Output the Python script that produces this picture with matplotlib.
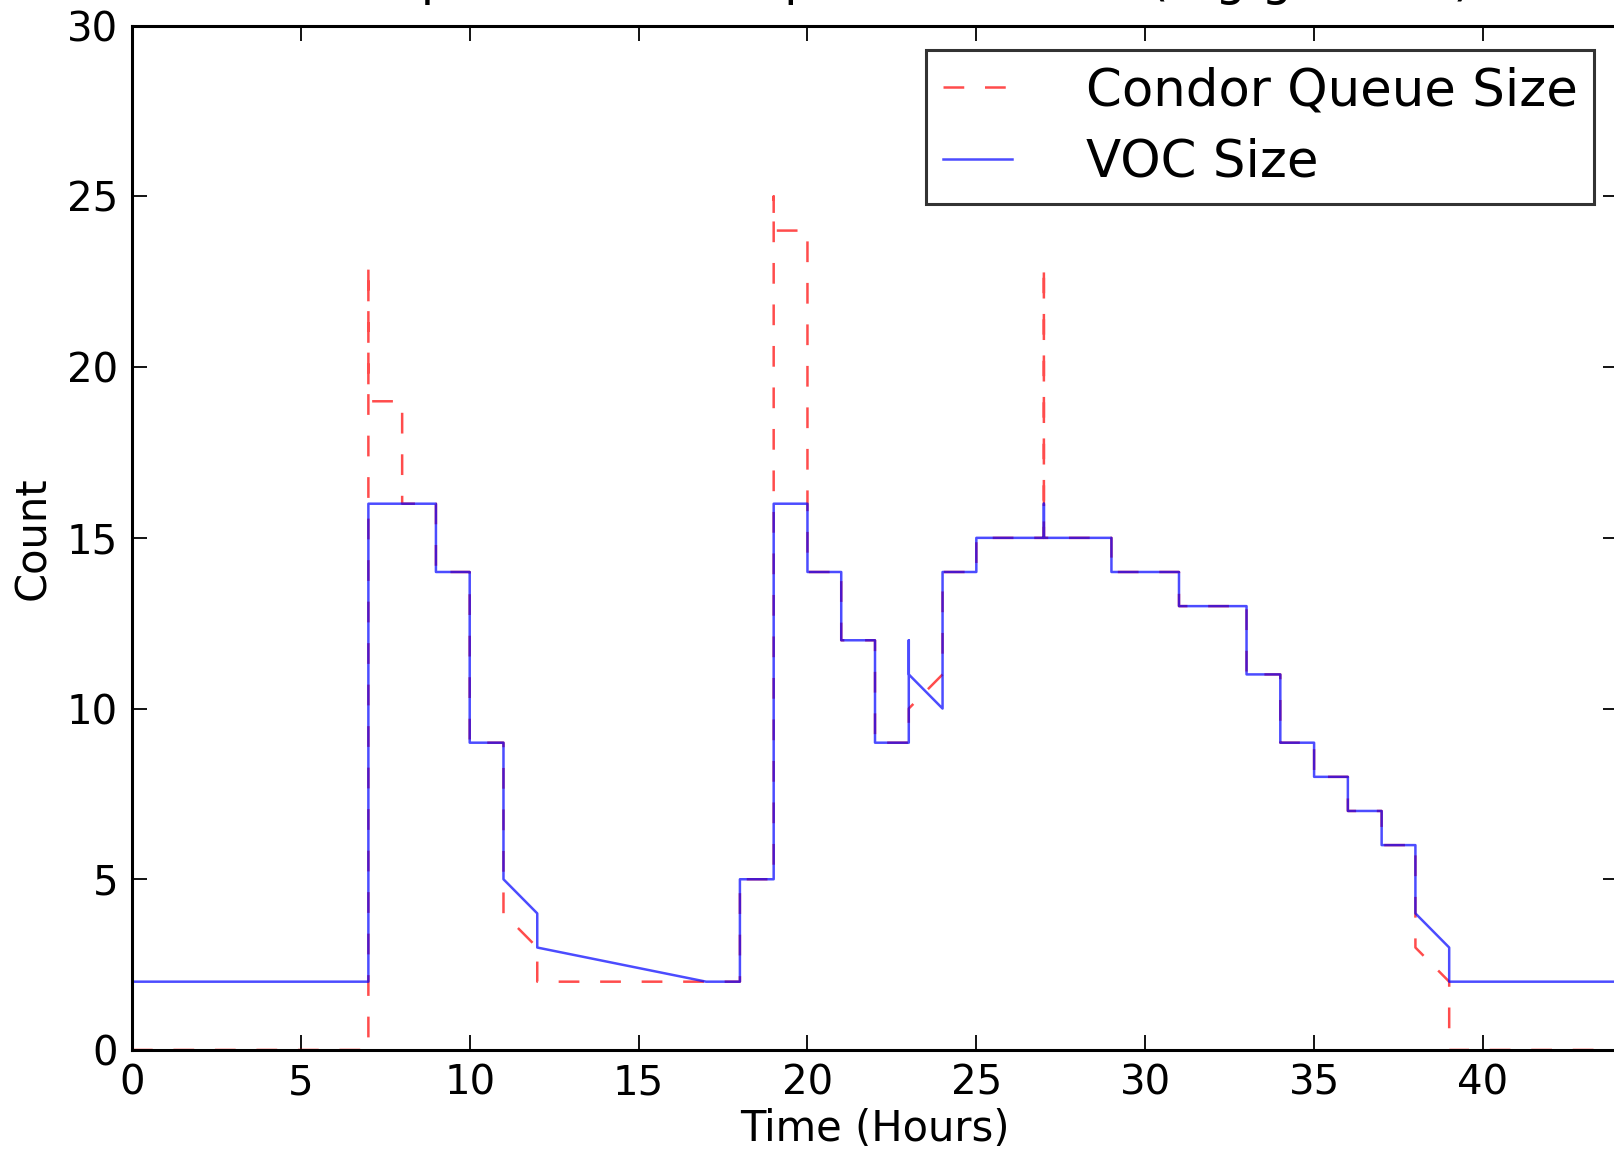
import matplotlib
matplotlib.use("Agg")
import matplotlib.pyplot as plt

# hours and counts, repeated x values make the vertical steps
voc_hours = [0, 7, 7, 9, 9, 10, 10, 11, 11, 12, 12, 17, 18, 18, 19, 19, 20, 20, 21, 21,
             22, 22, 23, 23, 23, 24, 24, 25, 25, 27, 27, 27, 29, 29, 31, 31, 33, 33, 34, 34,
             35, 35, 36, 36, 37, 37, 38, 38, 39, 39, 44]
voc_size = [2, 2, 16, 16, 14, 14, 9, 9, 5, 4, 3, 2, 2, 5, 5, 16, 16, 14, 14, 12,
            12, 9, 9, 12, 11, 10, 14, 14, 15, 15, 16, 15, 15, 14, 14, 13, 13, 11, 11, 9,
            9, 8, 8, 7, 7, 6, 6, 4, 3, 2, 2]

queue_hours = [0, 7, 7, 7, 8, 8, 9, 9, 10, 10, 11, 11, 12, 12, 17, 18, 18, 19, 19, 19,
               20, 20, 21, 21, 22, 22, 23, 23, 24, 24, 25, 25, 27, 27, 27, 29, 29, 31, 31, 33,
               33, 34, 34, 35, 35, 36, 36, 37, 37, 38, 38, 39, 39, 44]
queue_size = [0, 0, 23, 19, 19, 16, 16, 14, 14, 9, 9, 4, 3, 2, 2, 2, 5, 5, 25, 24,
              24, 14, 14, 12, 12, 9, 9, 10, 11, 14, 14, 15, 15, 23, 15, 15, 14, 14, 13, 13,
              11, 11, 9, 9, 8, 8, 7, 7, 6, 6, 3, 2, 0, 0]

# the title sits mostly above the top edge, as in the cropped original
title_text = "Simple Traces compared to VOCs (Big grid run)"

fig = plt.figure(figsize=(16.15, 11.49), dpi=100)
ax = fig.add_axes([0.0817, 0.0862, 0.9202, 0.8914])

ax.plot(queue_hours, queue_size, color="red", alpha=0.7, lw=1.8,
        linestyle=(0, (8.3, 8.3)), label="Condor Queue Size")
ax.plot(voc_hours, voc_size, color="blue", alpha=0.7, lw=1.8, label="VOC Size")

ax.set_xlim(0, 44)
ax.set_ylim(0, 30)
ax.set_xticks(range(0, 45, 5))
ax.set_yticks(range(0, 31, 5))
ax.tick_params(direction="in", length=11, width=1.3, labelsize=29, pad=10,
               top=True, right=True)
for s in ax.spines.values():
    s.set_linewidth(2.2)

ax.set_xlabel("Time (Hours)", fontsize=30, labelpad=3)
ax.set_ylabel("Count", fontsize=30, labelpad=9)
ax.set_title(title_text, fontsize=35, pad=22, x=0.517)

leg = ax.legend(loc="upper right", fontsize=37, handlelength=1.34, handletextpad=1.44,
                borderpad=0.32, labelspacing=0.42, borderaxespad=0.47, fancybox=False)
leg.get_frame().set_edgecolor("black")
leg.get_frame().set_linewidth(2.2)

fig.savefig("out.png", dpi=100)
